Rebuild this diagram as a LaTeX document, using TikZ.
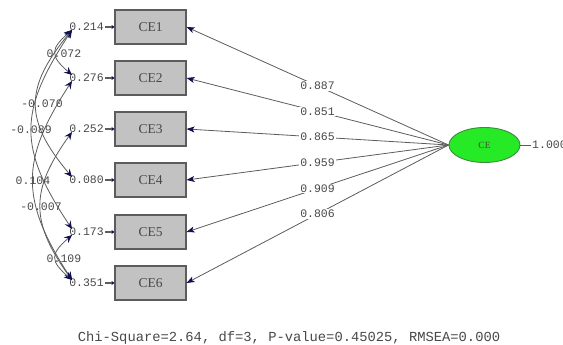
\documentclass[tikz,border=0pt]{standalone}
\usepackage{fontspec}
\newfontfamily\monofont{Liberation Mono}
\newfontfamily\serfont{Liberation Serif}
\usetikzlibrary{arrows.meta,shapes.geometric}

\definecolor{boxgray}{HTML}{C2C2C2}
\definecolor{edgegray}{HTML}{5C5C5C}
\definecolor{txtgray}{HTML}{484848}
\definecolor{headblue}{HTML}{101050}
\definecolor{latgreen}{HTML}{26EA26}
\definecolor{latedge}{HTML}{3C8C3C}

\begin{document}
\begin{tikzpicture}[x=1pt,y=-1pt,
  indicator/.style={draw=edgegray, fill=boxgray, line width=1.1pt,
    minimum width=71pt, minimum height=34pt, inner sep=0pt,
    font=\serfont\fontsize{13.5}{14}\selectfont, text=txtgray},
  latent/.style={ellipse, draw=latedge, fill=latgreen, line width=0.9pt,
    minimum width=71pt, minimum height=35pt, inner sep=0pt,
    font=\serfont\fontsize{9.5}{10}\selectfont, text=txtgray},
  numtext/.style={font=\monofont\fontsize{11.5}{12}\selectfont, text=txtgray, inner sep=1pt},
  loadlabel/.style={numtext, fill=white},
  loading/.style={draw=edgegray, line width=0.8pt,
    -{Stealth[length=8pt,width=6pt,inset=2pt,color=headblue]}},
  errarrow/.style={draw=edgegray, line width=1.5pt,
    -{Stealth[length=3pt,width=4pt,color=headblue]}},
  cov/.style={draw=edgegray, line width=0.8pt,
    {Stealth[length=8pt,width=7pt,inset=3pt,color=headblue]}-{Stealth[length=8pt,width=7pt,inset=3pt,color=headblue]}}
]
\useasboundingbox (0,0) rectangle (563,345);
\clip (0,0) rectangle (563,345);

% observed indicators
\node[indicator] (b1) at (150.5,27)  {CE1};
\node[indicator] (b2) at (150.5,78)  {CE2};
\node[indicator] (b3) at (150.5,129) {CE3};
\node[indicator] (b4) at (150.5,180) {CE4};
\node[indicator] (b5) at (150.5,232) {CE5};
\node[indicator] (b6) at (150.5,283) {CE6};

% latent factor and its variance
\node[latent] (ce) at (484.5,145) {CE};
\node[numtext, anchor=west] (v0) at (531,145) {1.000};
\draw[edgegray, line width=0.8pt] (ce.east) -- (v0.west);

% error variances
\node[numtext, anchor=east] (e1) at (105,27)  {0.214};
\node[numtext, anchor=east] (e2) at (105,78)  {0.276};
\node[numtext, anchor=east] (e3) at (105,129) {0.252};
\node[numtext, anchor=east] (e4) at (105,180) {0.080};
\node[numtext, anchor=east] (e5) at (105,232) {0.173};
\node[numtext, anchor=east] (e6) at (105,283) {0.351};
\foreach \i in {1,...,6}{
  \draw[errarrow] (e\i.east) -- (b\i.west);
}

% factor loadings
\draw[loading] (ce.west) -- (b1.east) node[loadlabel, pos=0.5] {0.887};
\draw[loading] (ce.west) -- (b2.east) node[loadlabel, pos=0.5] {0.851};
\draw[loading] (ce.west) -- (b3.east) node[loadlabel, pos=0.5] {0.865};
\draw[loading] (ce.west) -- (b4.east) node[loadlabel, pos=0.5] {0.959};
\draw[loading] (ce.west) -- (b5.east) node[loadlabel, pos=0.5] {0.909};
\draw[loading] (ce.west) -- (b6.east) node[loadlabel, pos=0.5] {0.806};

% error covariances
\coordinate (t1) at (72,27);
\coordinate (t2) at (72,78);
\coordinate (t3) at (72,129);
\coordinate (t4) at (72,180);
\coordinate (t5) at (72,232);
\coordinate (t6) at (72,283);

\draw[cov] ([yshift=-3pt]t1) .. controls (50,49) and (50,56) .. ([yshift=3pt]t2);
\draw[cov] ([yshift=-3pt]t1) .. controls (24,88) and (24,120) .. ([yshift=3pt]t4);
\draw[cov] ([yshift=-3pt]t1) .. controls (18,112) and (18,148) .. ([yshift=3pt]t5);
\draw[cov] ([yshift=-3pt]t2) .. controls (20,160) and (20,200) .. ([yshift=3pt]t6);
\draw[cov] ([yshift=-3pt]t3) .. controls (30,190) and (30,222) .. ([yshift=3pt]t6);
\draw[cov] ([yshift=-3pt]t5) .. controls (50,254) and (50,261) .. ([yshift=3pt]t6);

\node[numtext] (c12) at (64,54)  {0.072};
\node[numtext] (c14) at (42,104) {-0.070};
\node[numtext] (c15) at (31,130) {-0.089};
\node[numtext] (c26) at (33,181) {0.104};
\node[numtext] (c36) at (41,207) {-0.007};
\node[numtext] (c56) at (64,259) {0.109};

% fit statistics
\node[font=\monofont\fontsize{13.8}{14}\selectfont, text=txtgray, inner sep=0pt, anchor=base]
  (fit) at (289,341) {Chi-Square=2.64, df=3, P-value=0.45025, RMSEA=0.000};
\end{tikzpicture}
\end{document}
